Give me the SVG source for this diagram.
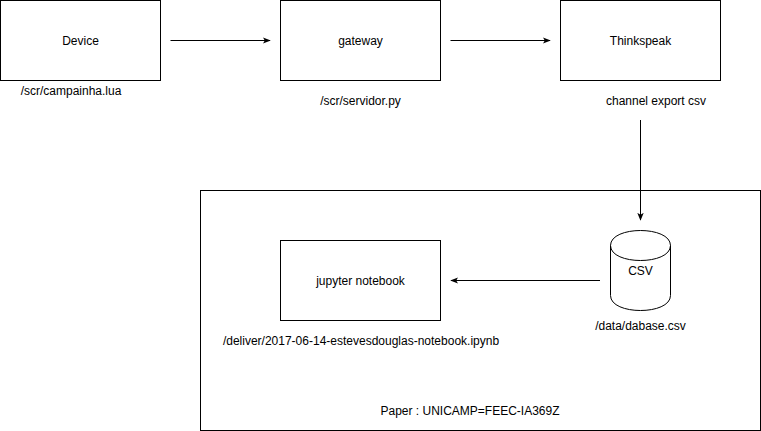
<svg xmlns="http://www.w3.org/2000/svg" width="761" height="431" viewBox="0 0 761 431">
<style>
.box{fill:#fff;stroke:#000;stroke-width:1}
.t{font-family:"Liberation Sans",Arial,Helvetica,sans-serif;font-size:12px;fill:#000;text-anchor:middle}
.e{stroke:#000;stroke-width:1;fill:none}
</style>
<defs>
<marker id="ah" viewBox="0 0 10 10" refX="9" refY="5" markerWidth="8" markerHeight="8" markerUnits="userSpaceOnUse" orient="auto">
<path d="M0,1 L10,5 L0,9 L2.5,5 Z" fill="#000"/>
</marker>
</defs>
<rect width="761" height="431" fill="#fff"/>
<g id="paper">
<rect class="box" x="200.5" y="190.5" width="560" height="240"/>
<text class="t" x="470" y="415">Paper : UNICAMP=FEEC-IA369Z</text>
</g>
<g id="device">
<rect class="box" x="0.5" y="0.5" width="160" height="80"/>
<text class="t" x="80.5" y="45">Device</text>
<text class="t" x="71" y="95">/scr/campainha.lua</text>
</g>
<g id="gateway">
<rect class="box" x="280.5" y="0.5" width="160" height="80"/>
<text class="t" x="360.5" y="45">gateway</text>
<text class="t" x="360.5" y="105">/scr/servidor.py</text>
</g>
<g id="thinkspeak">
<rect class="box" x="560.5" y="0.5" width="160" height="80"/>
<text class="t" x="640.5" y="45">Thinkspeak</text>
<text class="t" x="656" y="105">channel export csv</text>
</g>
<g id="csv">
<path class="box" d="M610.5,245.5 C610.5,225.5 670.5,225.5 670.5,245.5 L670.5,295.5 C670.5,315.5 610.5,315.5 610.5,295.5 Z"/>
<path class="e" d="M610.5,245.5 C610.5,265.5 670.5,265.5 670.5,245.5"/>
<text class="t" x="640.5" y="275">CSV</text>
<text class="t" x="640.5" y="330">/data/dabase.csv</text>
</g>
<g id="jupyter">
<rect class="box" x="280.5" y="240.5" width="160" height="80"/>
<text class="t" x="360.5" y="285">jupyter notebook</text>
<text class="t" x="361" y="345">/deliver/2017-06-14-estevesdouglas-notebook.ipynb</text>
</g>
<g id="connectors">
<line class="e" x1="170.5" y1="40.5" x2="270" y2="40.5" marker-end="url(#ah)"/>
<line class="e" x1="450.5" y1="40.5" x2="550" y2="40.5" marker-end="url(#ah)"/>
<line class="e" x1="640.5" y1="120" x2="640.5" y2="220" marker-end="url(#ah)"/>
<line class="e" x1="600" y1="280.5" x2="451" y2="280.5" marker-end="url(#ah)"/>
</g>
</svg>
